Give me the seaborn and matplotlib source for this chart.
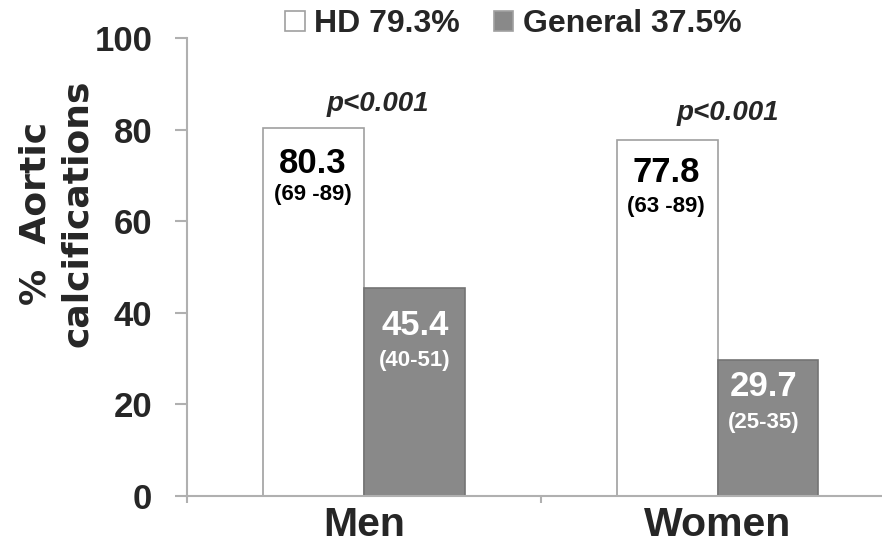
import numpy as np
import pandas as pd
import seaborn as sns
from matplotlib import pyplot as plt
from matplotlib.ticker import FixedLocator

# data
sexes = ["Men", "Women"]
groups = ["HD 79.3%", "General 37.5%"]
hd_values = [80.3, 77.8]
general_values = [45.4, 29.7]
hd_ci = ["(69 -89)", "(63 -89)"]
general_ci = ["(40-51)", "(25-35)"]
p_labels = ["p<0.001", "p<0.001"]

df = pd.DataFrame({
    "sex": sexes * 2,
    "group": [groups[0]] * 2 + [groups[1]] * 2,
    "value": hd_values + general_values,
})

sns.set_style("white")
plt.rcParams['font.family'] = ['Liberation Sans', 'DejaVu Sans']
plt.rcParams['font.weight'] = 'bold'

fig = plt.figure(figsize=(8.82, 5.49), dpi=100)
ax = fig.add_axes([0.212, 0.0965, 0.79, 0.8345])

sns.barplot(data=df, x="sex", y="value", hue="group", order=sexes, hue_order=groups,
            palette={groups[0]: "white", groups[1]: "#898989"},
            width=0.57, edgecolor="#a0a0a0", linewidth=1.2, ax=ax)
for p in ax.patches[2:4]:
    p.set_edgecolor("#747474")

ax.set_ylim(0, 100)
ax.set_xlim(-0.5, 1.47)
ax.set_yticks([0, 20, 40, 60, 80, 100])
ax.set_xlabel("")
ax.set_ylabel("")

for s in ["top", "right"]:
    ax.spines[s].set_visible(False)
for s in ["left", "bottom"]:
    ax.spines[s].set_color("#b0b0b0")
    ax.spines[s].set_linewidth(1.5)

ax.tick_params(axis="y", direction="out", length=9, width=1.5, color="#b0b0b0",
               labelsize=25, pad=16, left=True)
ax.tick_params(axis="x", which="major", length=0, labelsize=29.5, pad=7)
ax.xaxis.set_minor_locator(FixedLocator([-0.5, 0.5]))
ax.tick_params(axis="x", which="minor", direction="out", length=5, width=1.5,
               color="#b0b0b0", bottom=True)
for lab in ax.get_xticklabels() + ax.get_yticklabels():
    lab.set_fontweight("bold")

# axis title, two lines, placed like in the figure
fig.text(0.064, 0.612, "%  Aortic\ncalcifications", rotation=90, ha="center", va="center",
         fontsize=26, fontweight="bold", family="DejaVu Sans", linespacing=1.3)

# annotations inside and above the bars
hd_x = [-0.145, 0.855]
gen_x = [0.145, 1.13]
hd_num_y = [72.5, 70.6]
hd_ci_y = [65.9, 63.2]
gen_num_y = [37.3, 23.8]
gen_ci_y = [29.5, 16.1]
p_x = [0.04, 1.03]
p_y = [85.6, 83.6]
for i in range(2):
    ax.text(hd_x[i], hd_num_y[i], f"{hd_values[i]:.1f}", ha="center", va="center",
            fontsize=25, fontweight="bold", color="black")
    ax.text(hd_x[i], hd_ci_y[i], hd_ci[i], ha="center", va="center",
            fontsize=16, fontweight="bold", color="black")
    ax.text(gen_x[i], gen_num_y[i], f"{general_values[i]:.1f}", ha="center", va="center",
            fontsize=25, fontweight="bold", color="white")
    ax.text(gen_x[i], gen_ci_y[i], general_ci[i], ha="center", va="center",
            fontsize=16, fontweight="bold", color="white")
    ax.text(p_x[i], p_y[i], p_labels[i], ha="center", va="center",
            fontsize=20, fontweight="bold", style="italic")

handles, labels = ax.get_legend_handles_labels()
ax.legend(handles, labels, loc="center", bbox_to_anchor=(0.582, 0.956),
          bbox_transform=fig.transFigure, ncol=2, frameon=False,
          prop={"size": 23, "weight": "bold"}, handlelength=0.62, handleheight=0.62,
          handletextpad=0.3, columnspacing=1.05, borderaxespad=0, borderpad=0)

plt.savefig("out.png", dpi=100)
